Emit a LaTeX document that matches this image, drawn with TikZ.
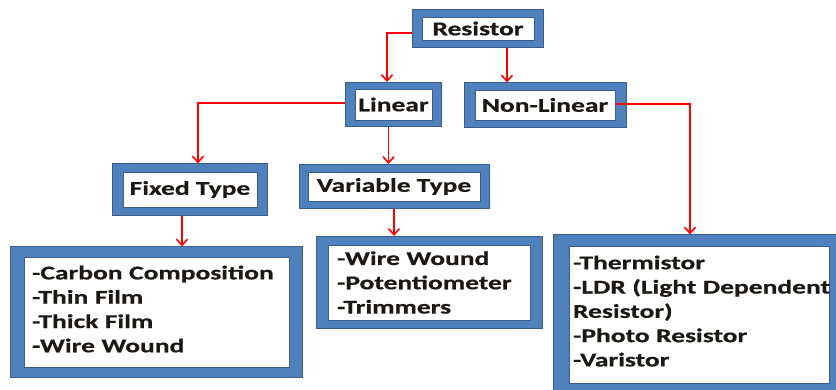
\documentclass[tikz,border=0pt]{standalone}
\usepackage{fontspec}
\setmainfont{Carlito}[FakeStretch=1.41,FakeBold=0.6]
\usetikzlibrary{backgrounds,fit,arrows.meta}
\definecolor{frameblue}{RGB}{79,129,189}
\definecolor{frameedge}{RGB}{56,93,138}
\definecolor{linkred}{RGB}{255,0,0}
\definecolor{inktext}{RGB}{28,24,20}

\begin{document}
\begin{tikzpicture}[x=1pt,y=-1pt,thick]
    % `kind' is the white box holding a type name,
    % `listing' the white box holding a list of parts,
    % `surround' the blue frame put behind each box.
    \tikzstyle{kind} = [fill=white,draw=frameedge,line width=0.6pt,inner sep=0pt,
                        text=inktext,font=\fontsize{19.5}{24.3}\selectfont\bfseries]
    \tikzstyle{listing} = [kind,align=left]
    \tikzstyle{surround} = [fill=frameblue,draw=frameedge,line width=0.6pt,inner sep=0pt]
    \tikzstyle{link} = [draw=linkred,line width=1.6pt,-{Straight Barb[length=6pt,width=11pt]}]
    \useasboundingbox (0,0) rectangle (836,390);
    \clip (0,0) rectangle (836,390);
    %
    \node[kind,minimum width=112pt,minimum height=23pt] (res) at (478,28.5) {Resistor};
    \node[kind,minimum width=77pt,minimum height=31pt] (lin) at (393.5,104.5) {Linear};
    \node[kind,minimum width=140pt,minimum height=30pt] (nonlin) at (545,105) {Non-Linear};
    \node[kind,minimum width=134pt,minimum height=35pt] (fixed) at (190,189.5) {Fixed Type};
    \node[kind,minimum width=172pt,minimum height=29pt] (var) at (394,186.5) {Variable Type};
    %
    % the empty rules lift the last line a little
    \node[listing,text width=249pt,inner xsep=8pt,minimum height=110pt] (fixedlist) at (156.5,312)
      {-Carbon Composition\\-Thin Film\\-Thick Film\\-Wire Wound\rule[-6pt]{0pt}{0pt}};
    \node[listing,text width=184pt,inner xsep=9pt,minimum height=75pt] (varlist) at (429,282.5)
      {-Wire Wound\\-Potentiometer\\-Trimmers};
    \node[listing,text width=252pt,inner xsep=4pt,minimum height=137pt] (nllist) at (699,314.5)
      {-Thermistor\\\mbox{-LDR (Light Dependent}\\Resistor)\\-Photo Resistor\\-Varistor\rule[-7pt]{0pt}{0pt}};
    %
    \begin{pgfonlayer}{background}
        % Blue frames round every box.
        \node[surround,fit=(res),inner xsep=9pt,inner ysep=7.5pt] (resf) {};
        \node[surround,fit=(lin),inner xsep=9pt,inner ysep=6.5pt] (linf) {};
        \node[surround,fit=(nonlin),inner xsep=10.5pt,inner ysep=7pt] (nonlinf) {};
        \node[surround,fit=(fixed),inner xsep=10pt,inner ysep=8pt] (fixedf) {};
        \node[surround,fit=(var),inner xsep=8.5pt,inner ysep=7.5pt] (varf) {};
        \node[surround,fit=(fixedlist),inner xsep=13pt,inner ysep=10pt] (fixedlistf) {};
        \node[surround,fit=(varlist),inner xsep=11.5pt,inner ysep=8.5pt] (varlistf) {};
        \node[surround,fit=(nllist),inner xsep=15pt,inner ysep=11pt] (nllistf) {};
    \end{pgfonlayer}
    %
    % Red connectors.
    \draw[link] ([yshift=-4.5pt]resf.west) -| ([xshift=-6.5pt]linf.north);
    \draw[link] ([xshift=29pt]resf.south) -- ([xshift=29pt]resf.south |- nonlinf.north);
    \draw[link] ([yshift=1.5pt]linf.west) -| ([xshift=8pt]fixedf.north);
    \draw[link] ([xshift=-5pt]linf.south) -- ([xshift=-5pt]linf.south |- varf.north);
    \draw[link] ([yshift=1pt]nonlin.east) -| ([xshift=-9pt]nllistf.north);
    \draw[link] ([xshift=-8pt]fixedf.south) -- ([xshift=-8pt]fixedf.south |- fixedlistf.north);
    \draw[link] (varf.south) -- (varf.south |- varlistf.north);
\end{tikzpicture}
\end{document}
